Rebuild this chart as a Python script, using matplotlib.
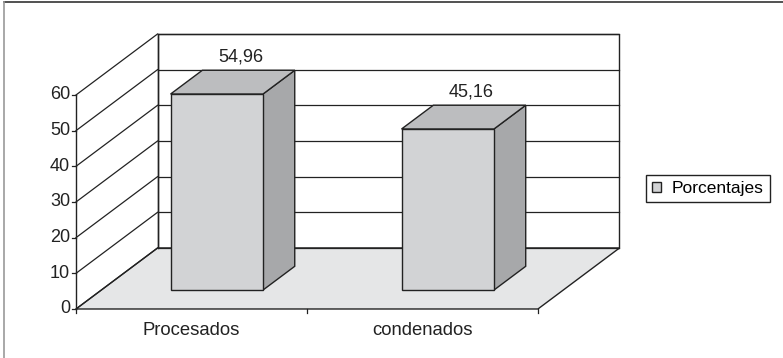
import matplotlib.pyplot as plt
from matplotlib.patches import Polygon

plt.rcParams["font.family"] = ["Liberation Sans", "DejaVu Sans"]

categories = ["Procesados", "condenados"]
values = [54.96, 45.16]
value_labels = ["54,96", "45,16"]
yticks = [0, 10, 20, 30, 40, 50, 60]
series_name = "Porcentajes"

# pseudo-3D geometry (data units: x = category, y = value)
DX, DY = 0.353, 17.1           # full depth offset of the back wall
HALF_W = 0.2                    # half bar width
Z0, Z1 = 0.31, 0.70             # bar depth range (fraction of full depth)
YMAX = 60
LINE = "#222222"
FRONT, SIDE, TOP = "#d2d3d5", "#a7a8aa", "#bcbdbf"
FLOOR = "#e5e6e7"


def proj(x, y, z):
    return (x + z * DX, y + z * DY)


fig = plt.figure(figsize=(7.83, 3.58), dpi=100)
ax = fig.add_axes([0, 0, 1, 1])
ax.set_xlim(-0.829, 2.561)
ax.set_ylim(-13.74, 86.63)
ax.axis("off")

x0, x1 = -0.5, len(categories) - 0.5

# back wall and floor
ax.add_patch(Polygon([proj(x0, 0, 1), proj(x1, 0, 1), proj(x1, YMAX, 1), proj(x0, YMAX, 1)],
                     closed=True, facecolor="white", edgecolor=LINE, lw=1, zorder=1))
ax.add_patch(Polygon([proj(x0, 0, 0), proj(x1, 0, 0), proj(x1, 0, 1), proj(x0, 0, 1)],
                     closed=True, facecolor=FLOOR, edgecolor=LINE, lw=1, zorder=1))

# gridlines on left wall and back wall, y ticks
for t in yticks:
    (ax_, ay_), (bx_, by_) = proj(x0, t, 0), proj(x0, t, 1)
    ax.plot([ax_, bx_], [ay_, by_], color=LINE, lw=0.9, zorder=2)
    (cx_, cy_) = proj(x1, t, 1)
    ax.plot([bx_, cx_], [by_, cy_], color=LINE, lw=0.9, zorder=2)
    ax.plot([x0 - 0.018, x0], [t, t], color=LINE, lw=0.9, zorder=2)
    ax.text(x0 - 0.026, t, str(t), ha="right", va="center", fontsize=13, color=LINE)

ax.plot([x0, x0], [0, YMAX], color=LINE, lw=1, zorder=2)
ax.plot([x0 + DX, x0 + DX], [DY, YMAX + DY], color=LINE, lw=1, zorder=2)

# category ticks and labels
for k in range(len(categories) + 1):
    ax.plot([x0 + k, x0 + k], [0, -1.2], color=LINE, lw=0.9, zorder=2)
for i, c in enumerate(categories):
    ax.text(i, -6.0, c, ha="center", va="center", fontsize=13.3, color=LINE)

# bars
for i, v in enumerate(values):
    l, r = i - HALF_W, i + HALF_W
    side = [proj(r, 0, Z0), proj(r, 0, Z1), proj(r, v, Z1), proj(r, v, Z0)]
    top = [proj(l, v, Z0), proj(r, v, Z0), proj(r, v, Z1), proj(l, v, Z1)]
    front = [proj(l, 0, Z0), proj(r, 0, Z0), proj(r, v, Z0), proj(l, v, Z0)]
    for pts, fc in ((side, SIDE), (top, TOP), (front, FRONT)):
        ax.add_patch(Polygon(pts, closed=True, facecolor=fc, edgecolor=LINE, lw=1, zorder=3))
    lx, ly = proj(i, v, 0.6)
    ax.annotate(value_labels[i], (lx, ly), xytext=(0, 14), textcoords="offset points",
                ha="center", va="center", fontsize=13, color=LINE, zorder=4)

# legend
handle = Polygon([[0, 0]], facecolor=FRONT, edgecolor=LINE, lw=1)
leg = fig.legend([handle], [series_name], loc="center left",
                 bbox_to_anchor=(637 / 783, 1 - 188.5 / 358), fontsize=12.5,
                 handlelength=0.55, handleheight=0.55, handletextpad=0.6,
                 borderpad=0.35, fancybox=False, framealpha=1)
leg.get_frame().set_edgecolor(LINE)
leg.get_frame().set_linewidth(1)

# outer frame (top and left edges visible)
fig.add_artist(plt.Line2D([4 / 783, 1], [1 - 2 / 358] * 2, transform=fig.transFigure, color="#333333", lw=1.2))
fig.add_artist(plt.Line2D([4 / 783] * 2, [0, 1 - 2 / 358], transform=fig.transFigure, color="#999999", lw=1.2))

fig.savefig("out.png", dpi=100)
